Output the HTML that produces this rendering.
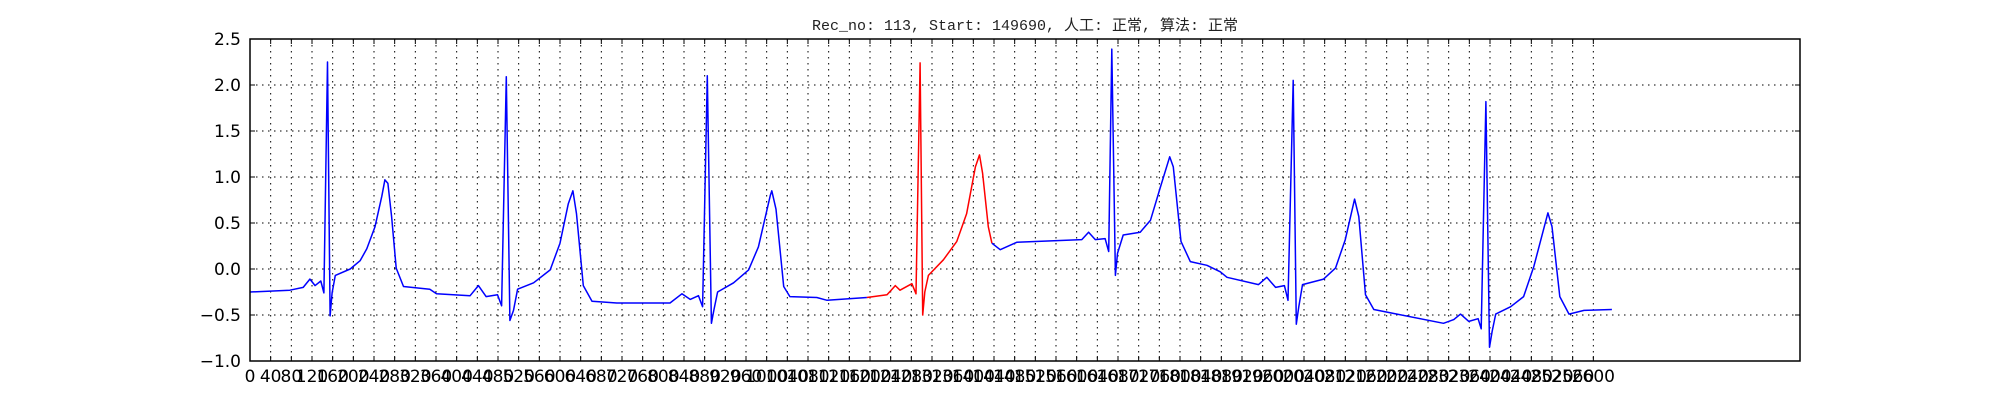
<!DOCTYPE html>
<html><head><meta charset="utf-8">
<style>
html,body{margin:0;padding:0;background:#fff;}
svg{display:block;}
text{font-family:"DejaVu Sans","Liberation Sans",sans-serif;}
</style></head>
<body>
<svg id="chart" width="2000" height="400" viewBox="0 0 2000 400" xmlns="http://www.w3.org/2000/svg">
<rect x="0" y="0" width="2000" height="400" fill="#fff"/>
<text x="1025" y="30" text-anchor="middle" font-size="15" fill="#222" style="font-family:'Liberation Mono','Noto Sans CJK SC',monospace">Rec_no: 113, Start: 149690, 人工: 正常, 算法: 正常</text>
<g id="grid"></g>
<g id="series"></g>
<g id="axes"></g>
</svg>
<script>
const xTicks = [];
for (let v = 0; v <= 2600; v += 40) xTicks.push(v);
const yTicks = [-1.0, -0.5, 0.0, 0.5, 1.0, 1.5, 2.0, 2.5];
const yTickLabels = ["\u22121.0","\u22120.5","0.0","0.5","1.0","1.5","2.0","2.5"];
const xDomain = [0, 3000];
const yDomain = [-1, 2.5];

const blueT1 = [0,77,103,116,126,137,143,150,155,159,165,194,213,226,242,255,261,267,274,283,297,348,361,426,442,457,479,487,496,503,510,518,549,581,600,616,625,632,645,662,710,813,836,852,868,876,885,893,898,905,936,965,984,1007,1010,1018,1033,1045,1097,1117,1194];
const blueV1 = [-0.25,-0.23,-0.2,-0.11,-0.18,-0.13,-0.26,2.25,-0.51,-0.26,-0.07,0.0,0.09,0.22,0.46,0.79,0.97,0.93,0.57,0.01,-0.19,-0.22,-0.27,-0.29,-0.18,-0.3,-0.28,-0.4,2.09,-0.56,-0.45,-0.22,-0.15,-0.01,0.28,0.71,0.85,0.6,-0.18,-0.35,-0.37,-0.37,-0.27,-0.33,-0.29,-0.41,2.1,-0.59,-0.44,-0.25,-0.15,-0.01,0.24,0.8,0.85,0.65,-0.19,-0.3,-0.31,-0.34,-0.31];
const redT = [1194,1233,1249,1258,1281,1289,1297,1302,1306,1313,1342,1368,1387,1404,1412,1418,1429,1436];
const redV = [-0.31,-0.28,-0.18,-0.23,-0.16,-0.27,2.24,-0.5,-0.25,-0.07,0.1,0.3,0.6,1.11,1.24,1.04,0.46,0.28];
const blueT2 = [1436,1452,1484,1568,1610,1623,1636,1655,1662,1668,1675,1679,1690,1723,1743,1762,1780,1787,1802,1820,1852,1878,1891,1952,1968,1985,2002,2009,2019,2025,2030,2037,2078,2101,2120,2138,2146,2159,2175,2220,2310,2330,2343,2359,2377,2383,2392,2399,2404,2411,2440,2465,2485,2512,2520,2535,2553,2582,2636];
const blueV2 = [0.28,0.21,0.29,0.31,0.32,0.4,0.32,0.33,0.19,2.39,-0.07,0.17,0.37,0.4,0.53,0.89,1.22,1.11,0.3,0.08,0.04,-0.03,-0.09,-0.17,-0.09,-0.2,-0.18,-0.34,2.05,-0.6,-0.41,-0.17,-0.11,0.01,0.32,0.76,0.57,-0.28,-0.44,-0.49,-0.59,-0.55,-0.49,-0.57,-0.54,-0.65,1.82,-0.85,-0.68,-0.49,-0.41,-0.3,0.03,0.61,0.46,-0.3,-0.49,-0.45,-0.44];

const L = 250, R = 1800, T = 39, B = 361;
function sx(v){ return L + (v - xDomain[0]) / (xDomain[1] - xDomain[0]) * (R - L); }
function sy(v){ return B - (v - yDomain[0]) / (yDomain[1] - yDomain[0]) * (B - T); }
const NS = "http://www.w3.org/2000/svg";
function mk(tag, attrs, parent){ const e = document.createElementNS(NS, tag); for (const k in attrs) e.setAttribute(k, attrs[k]); parent.appendChild(e); return e; }

const grid = document.getElementById('grid');
const axes = document.getElementById('axes');
const series = document.getElementById('series');

xTicks.forEach(function(v){
  const x = sx(v);
  const g = mk('line', {x1:x, x2:x, y1:T, y2:B, stroke:'#000', 'stroke-width':1, 'stroke-dasharray':'1.5,4.5'}, grid);
  
  
  const t1 = mk('line', {x1:x, x2:x, y1:B, y2:B-5, stroke:'#000', 'stroke-width':1}, axes);
  
  
  const t2 = mk('line', {x1:x, x2:x, y1:T, y2:T+5, stroke:'#000', 'stroke-width':1}, axes);
  
  
  const lb = mk('text', {x:x, y:B+21, 'text-anchor':'middle', 'font-size':17, fill:'#000'}, axes);
  lb.textContent = String(v);
  
  
});
yTicks.forEach(function(v, i){
  const y = sy(v);
  const g = mk('line', {x1:L, x2:R, y1:y, y2:y, stroke:'#000', 'stroke-width':1, 'stroke-dasharray':'1.5,4.5'}, grid);
  
  
  const t1 = mk('line', {x1:L, x2:L+5, y1:y, y2:y, stroke:'#000', 'stroke-width':1}, axes);
  
  
  const t2 = mk('line', {x1:R, x2:R-5, y1:y, y2:y, stroke:'#000', 'stroke-width':1}, axes);
  
  
  const lb = mk('text', {x:L-9, y:y+6, 'text-anchor':'end', 'font-size':17, fill:'#000'}, axes);
  lb.textContent = yTickLabels[i];
  
  
});
const frame = mk('rect', {x:L, y:T, width:R-L, height:B-T, fill:'none', stroke:'#000', 'stroke-width':1.5}, axes);



function line(ts, vs, color, name){
  const pts = ts.map(function(t, i){ return sx(t).toFixed(1) + ',' + sy(vs[i]).toFixed(1); }).join(' ');
  const p = mk('polyline', {points:pts, fill:'none', stroke:color, 'stroke-width':1.5, 'stroke-linejoin':'round'}, series);
  
  
}
line(blueT1, blueV1, '#0000ff', 'ecg-series-blue-1');
line(redT, redV, '#ff0000', 'ecg-series-red-highlight');
line(blueT2, blueV2, '#0000ff', 'ecg-series-blue-2');
</script>
</body></html>
